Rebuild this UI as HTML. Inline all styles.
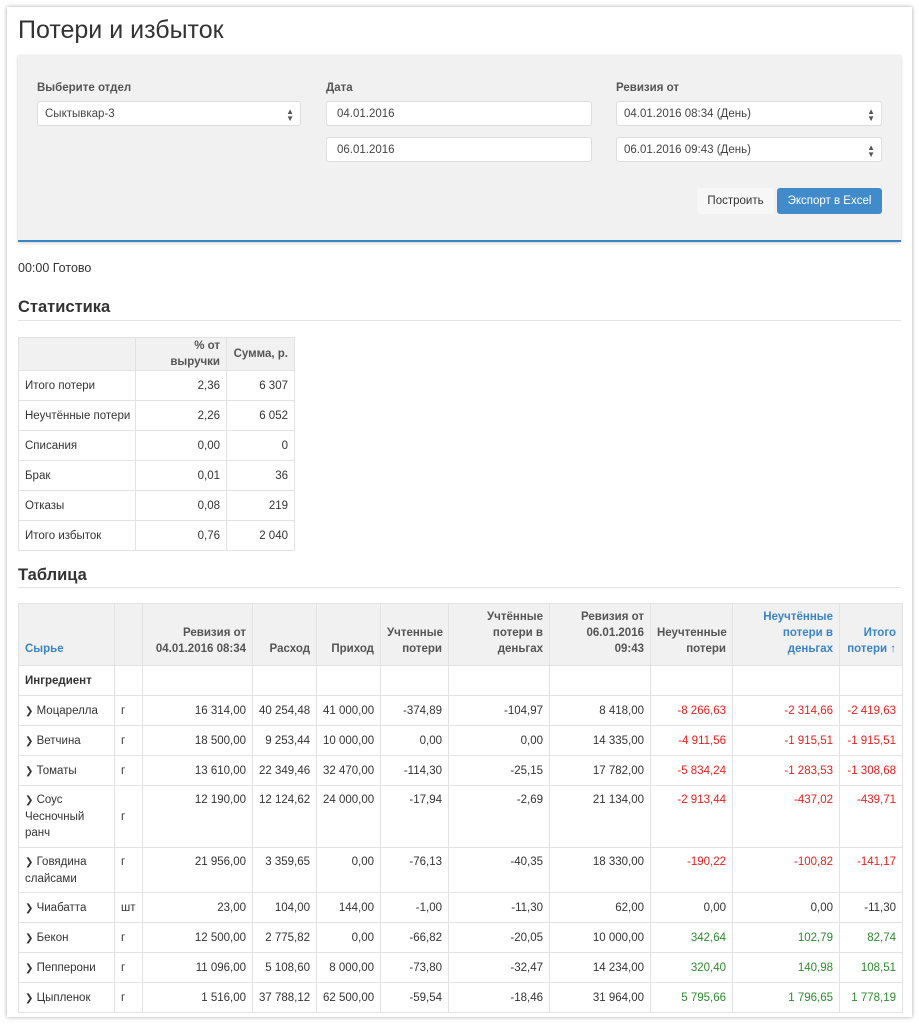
<!DOCTYPE html>
<html><head><meta charset="utf-8"><style>
body{margin:0;width:919px;height:1024px;background:#fff;font-family:"Liberation Sans",sans-serif;color:#333;position:relative;overflow:hidden}
.frame{position:absolute;left:7px;top:7px;width:905px;height:1010px;background:#fff;box-shadow:0 0 4px rgba(0,0,0,.35)}
.abs{position:absolute}
h1{position:absolute;left:18px;top:16px;margin:0;font-size:25px;font-weight:normal;color:#333}
.panel{position:absolute;left:18px;top:55px;width:883px;height:185px;background:#f1f1f1;border-bottom:2px solid #3a84c6;box-shadow:0 1px 3px rgba(0,0,0,.2)}
.lbl{position:absolute;font-size:11.5px;font-weight:bold;color:#555}
.inp{position:absolute;height:25px;background:#fff;border:1px solid #ddd;border-radius:3px;font-size:11.5px;line-height:25px;padding-left:7px;box-sizing:border-box;color:#444}
.arr{position:absolute;right:6px;top:0;font-size:8px;line-height:7px;top:6px;color:#555}
.btn{position:absolute;height:26px;line-height:26px;font-size:11.5px;text-align:center;border-radius:3px}
h3{position:absolute;left:18px;margin:0;font-size:16.5px;font-weight:bold;color:#333}
.hr{position:absolute;left:18px;width:883px;height:1px;background:#e3e3e3}
table{position:absolute;border-collapse:collapse;table-layout:fixed;font-size:11.5px}
td,th{border:1px solid #e2e2e2;padding:0 6px;text-align:right;overflow:hidden;white-space:nowrap}
th{background:#f1f1f1;font-weight:bold;color:#555;vertical-align:bottom;padding-bottom:8px;line-height:16px;white-space:normal}
.l{text-align:left}
.link{color:#3a84c6}
.r{color:#e81e1e}.g{color:#2e8a2e}
.chev{font-size:10px;color:#333}
</style></head><body>
<div class="frame"></div>
<h1>Потери и избыток</h1>
<div class="panel"></div>
<div class="lbl" style="left:37px;top:82px">Выберите отдел</div>
<div class="inp" style="left:37px;top:101px;width:264px">Сыктывкар-3<span class="arr">▲<br>▼</span></div>
<div class="lbl" style="left:326px;top:82px">Дата</div>
<div class="inp" style="left:326px;top:101px;width:266px;padding-left:10px">04.01.2016</div>
<div class="inp" style="left:326px;top:137px;width:266px;padding-left:10px">06.01.2016</div>
<div class="lbl" style="left:616px;top:82px">Ревизия от</div>
<div class="inp" style="left:616px;top:101px;width:266px">04.01.2016 08:34 (День)<span class="arr">▲<br>▼</span></div>
<div class="inp" style="left:616px;top:137px;width:266px">06.01.2016 09:43 (День)<span class="arr">▲<br>▼</span></div>
<div class="btn" style="left:697px;top:188px;width:77px;background:#f7f7f7;color:#333">Построить</div>
<div class="btn" style="left:777px;top:188px;width:105px;background:#428bca;color:#fff">Экспорт в Excel</div>
<div class="abs" style="left:18px;top:261px;font-size:12.5px">00:00 Готово</div>
<h3 style="top:298px">Статистика</h3>
<div class="hr" style="top:320px"></div>
<table style="left:18px;top:337px;width:276px">
<colgroup><col style="width:117px"><col style="width:91px"><col style="width:68px"></colgroup>
<tr style="height:30px"><th style="padding-bottom:0;vertical-align:middle"></th><th style="padding-bottom:0;vertical-align:middle">% от выручки</th><th style="padding-bottom:0;vertical-align:middle">Сумма, р.</th></tr>
<tr style="height:30px"><td class="l">Итого потери</td><td>2,36</td><td>6 307</td></tr>
<tr style="height:30px"><td class="l">Неучтённые потери</td><td>2,26</td><td>6 052</td></tr>
<tr style="height:30px"><td class="l">Списания</td><td>0,00</td><td>0</td></tr>
<tr style="height:30px"><td class="l">Брак</td><td>0,01</td><td>36</td></tr>
<tr style="height:30px"><td class="l">Отказы</td><td>0,08</td><td>219</td></tr>
<tr style="height:30px"><td class="l">Итого избыток</td><td>0,76</td><td>2 040</td></tr>
</table>
<h3 style="top:566px">Таблица</h3>
<div class="hr" style="top:587px"></div>
<table style="left:18px;top:603px;width:884px">
<colgroup><col style="width:96px"><col style="width:28px"><col style="width:110px"><col style="width:64px"><col style="width:64px"><col style="width:68px"><col style="width:101px"><col style="width:101px"><col style="width:82px"><col style="width:107px"><col style="width:63px"></colgroup>
<tr style="height:62px"><th class="l link">Сырье</th><th></th><th>Ревизия от 04.01.2016 08:34</th><th>Расход</th><th>Приход</th><th>Учтенные потери</th><th>Учтённые потери в деньгах</th><th>Ревизия от 06.01.2016 09:43</th><th>Неучтенные потери</th><th class="link">Неучтённые потери в деньгах</th><th class="link">Итого потери ↑</th></tr>
<tr style="height:30px"><td class="l" style="font-weight:bold">Ингредиент</td><td></td><td></td><td></td><td></td><td></td><td></td><td></td><td></td><td></td><td></td></tr>
<tr style="height:30px"><td class="l"><span class="chev">❯</span> Моцарелла</td><td class="l">г</td><td>16 314,00</td><td>40 254,48</td><td>41 000,00</td><td>-374,89</td><td>-104,97</td><td>8 418,00</td><td class="r">-8 266,63</td><td class="r">-2 314,66</td><td class="r">-2 419,63</td></tr>
<tr style="height:30px"><td class="l"><span class="chev">❯</span> Ветчина</td><td class="l">г</td><td>18 500,00</td><td>9 253,44</td><td>10 000,00</td><td>0,00</td><td>0,00</td><td>14 335,00</td><td class="r">-4 911,56</td><td class="r">-1 915,51</td><td class="r">-1 915,51</td></tr>
<tr style="height:30px"><td class="l"><span class="chev">❯</span> Томаты</td><td class="l">г</td><td>13 610,00</td><td>22 349,46</td><td>32 470,00</td><td>-114,30</td><td>-25,15</td><td>17 782,00</td><td class="r">-5 834,24</td><td class="r">-1 283,53</td><td class="r">-1 308,68</td></tr>
<tr style="height:62px"><td class="l" style="white-space:normal;line-height:16px"><span class="chev">❯</span> Соус Чесночный ранч</td><td class="l">г</td><td style="vertical-align:top;padding-top:8px">12 190,00</td><td style="vertical-align:top;padding-top:8px">12 124,62</td><td style="vertical-align:top;padding-top:8px">24 000,00</td><td style="vertical-align:top;padding-top:8px">-17,94</td><td style="vertical-align:top;padding-top:8px">-2,69</td><td style="vertical-align:top;padding-top:8px">21 134,00</td><td class="r" style="vertical-align:top;padding-top:8px">-2 913,44</td><td class="r" style="vertical-align:top;padding-top:8px">-437,02</td><td class="r" style="vertical-align:top;padding-top:8px">-439,71</td></tr>
<tr style="height:45px"><td class="l" style="white-space:normal;line-height:16px"><span class="chev">❯</span> Говядина слайсами</td><td class="l" style="vertical-align:top;padding-top:8px">г</td><td style="vertical-align:top;padding-top:8px">21 956,00</td><td style="vertical-align:top;padding-top:8px">3 359,65</td><td style="vertical-align:top;padding-top:8px">0,00</td><td style="vertical-align:top;padding-top:8px">-76,13</td><td style="vertical-align:top;padding-top:8px">-40,35</td><td style="vertical-align:top;padding-top:8px">18 330,00</td><td class="r" style="vertical-align:top;padding-top:8px">-190,22</td><td class="r" style="vertical-align:top;padding-top:8px">-100,82</td><td class="r" style="vertical-align:top;padding-top:8px">-141,17</td></tr>
<tr style="height:30px"><td class="l"><span class="chev">❯</span> Чиабатта</td><td class="l">шт</td><td>23,00</td><td>104,00</td><td>144,00</td><td>-1,00</td><td>-11,30</td><td>62,00</td><td>0,00</td><td>0,00</td><td>-11,30</td></tr>
<tr style="height:30px"><td class="l"><span class="chev">❯</span> Бекон</td><td class="l">г</td><td>12 500,00</td><td>2 775,82</td><td>0,00</td><td>-66,82</td><td>-20,05</td><td>10 000,00</td><td class="g">342,64</td><td class="g">102,79</td><td class="g">82,74</td></tr>
<tr style="height:30px"><td class="l"><span class="chev">❯</span> Пепперони</td><td class="l">г</td><td>11 096,00</td><td>5 108,60</td><td>8 000,00</td><td>-73,80</td><td>-32,47</td><td>14 234,00</td><td class="g">320,40</td><td class="g">140,98</td><td class="g">108,51</td></tr>
<tr style="height:30px"><td class="l"><span class="chev">❯</span> Цыпленок</td><td class="l">г</td><td>1 516,00</td><td>37 788,12</td><td>62 500,00</td><td>-59,54</td><td>-18,46</td><td>31 964,00</td><td class="g">5 795,66</td><td class="g">1 796,65</td><td class="g">1 778,19</td></tr>
</table>
</body></html>
